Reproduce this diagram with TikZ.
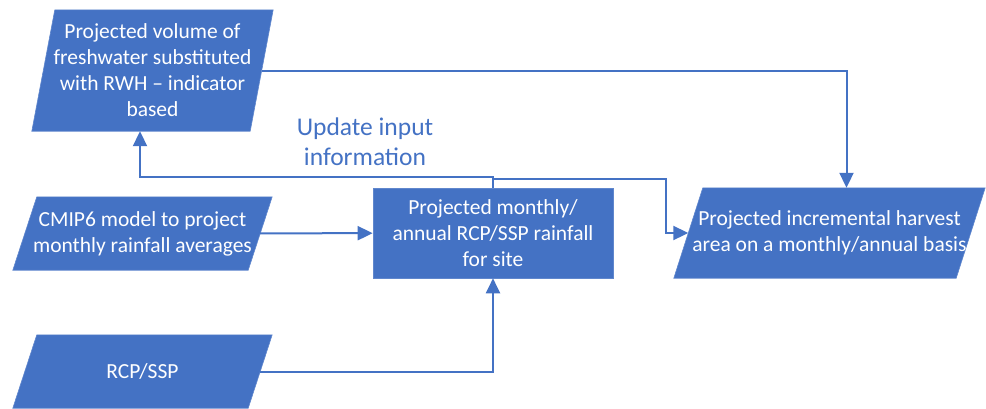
\documentclass[tikz,border=0pt]{standalone}
\usepackage{fontspec}
\setmainfont{Carlito}
\usetikzlibrary{arrows.meta,backgrounds}
\definecolor{officeblue}{RGB}{68,114,196}

\begin{document}
\begin{tikzpicture}[x=1pt,y=1pt,yscale=-1,xscale=1,
  boxtext/.style={rectangle, text=white, align=center, inner sep=0pt,
    font=\fontsize{21.5}{26}\selectfont},
  procbox/.style={boxtext, fill=officeblue, draw=officeblue!85!white, line width=0.6pt},
  flow/.style={draw=officeblue, line width=2pt, -{Triangle[length=15pt,width=14pt]}}]
\useasboundingbox (0,0) rectangle (986,408);

% Text Node
\node (volume) [boxtext, minimum width=218pt, minimum height=121pt] at (152.5,70.5)
  {Projected volume of\\freshwater substituted\\with RWH -- indicator\\based};
% Text Node
\node (cmip) [boxtext, minimum width=235pt, minimum height=73pt] at (142.5,233.5)
  {CMIP6 model to project\\monthly rainfall averages};
% Text Node
\node (rcp) [boxtext, minimum width=235pt, minimum height=73pt] at (142.5,371.5)
  {RCP/SSP};
% Text Node
\node (rainfall) [procbox, minimum width=240pt, minimum height=90pt] at (493,233)
  {Projected monthly/\\annual RCP/SSP rainfall\\for site};
% Text Node
\node (harvest) [boxtext, minimum width=282pt, minimum height=90pt] at (829.5,233)
  {Projected incremental harvest\\area on a monthly/annual basis};
% Text Node
\node (updatelbl) [text=officeblue, align=center, font=\fontsize{25.5}{30}\selectfont] at (365,142)
  {Update input\\information};

% data shapes behind the text
\begin{scope}[on background layer]
\foreach \n/\s in {volume/23, cmip/24, rcp/24, harvest/29}
  \filldraw [fill=officeblue, draw=officeblue!85!white, line width=0.6pt]
    ([xshift=\s/2]\n.north west) -- ([xshift=\s/2]\n.north east)
    -- ([xshift=-\s/2]\n.south east) -- ([xshift=-\s/2]\n.south west) -- cycle;
\end{scope}

% Connection
\draw [flow] (volume.east) -| ([xshift=17pt]harvest.north);
% Connection
\draw [flow] (cmip) -- (rainfall);
% Connection
\draw [flow] (rcp.east) -| (rainfall.south);
% Connection
\draw [flow] (rainfall.north) -- ++(0,-11) -| ([xshift=-12.5pt]volume.south);
% Connection
\draw [flow] (rainfall.north) -- ++(0,-9) -| ([xshift=-22pt]harvest.west) -- (harvest.west);

\end{tikzpicture}
\end{document}
